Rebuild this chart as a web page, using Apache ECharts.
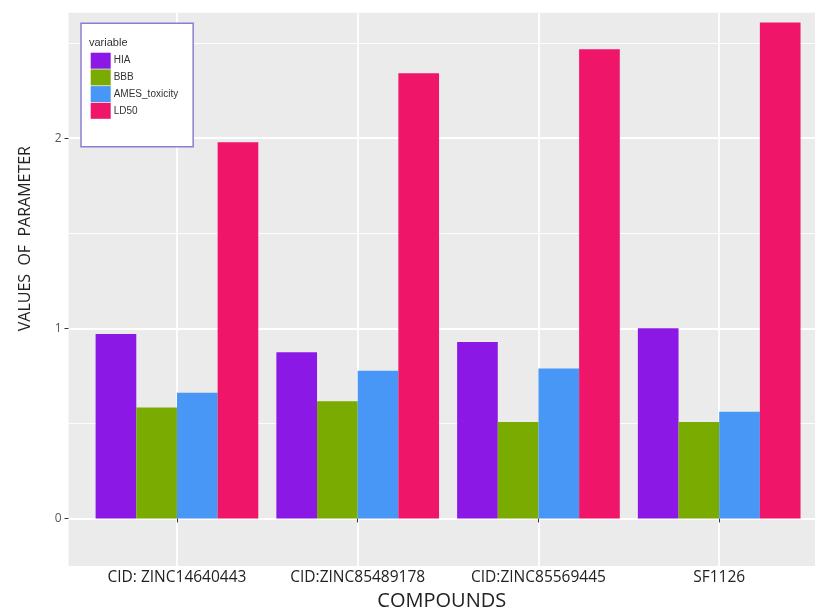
<!DOCTYPE html>
<html>
<head>
<meta charset="utf-8">
<script src="https://cdn.jsdelivr.net/npm/echarts@6/dist/echarts.min.js"></script>
<style>html,body{margin:0;padding:0;background:#fff;}#c{width:815px;height:610px;}</style>
</head>
<body>
<div id="c"></div>
<script>
const categories = ['CID: ZINC14640443', 'CID:ZINC85489178', 'CID:ZINC85569445', 'SF1126'];
const seriesNames = ['HIA', 'BBB', 'AMES_toxicity', 'LD50'];
const HIA = [0.970, 0.874, 0.928, 1.000];
const BBB = [0.584, 0.617, 0.507, 0.508];
const AMES_toxicity = [0.661, 0.777, 0.789, 0.561];
const LD50 = [1.979, 2.342, 2.468, 2.608];
const yTicks = [0, 1, 2];
const yMinorTicks = [0.5, 1.5, 2.5];
const colors = ['#8c18e6', '#7aab00', '#4896f5', '#ef1569'];

const xPositions = categories.map((c, i) => i + 1);
const values = [HIA, BBB, AMES_toxicity, LD50];
const font = '"Open Sans", "Liberation Sans", sans-serif';

const chart = echarts.init(document.getElementById('c'), null, {renderer: 'canvas'});
chart.setOption({
  animation: false,
  backgroundColor: '#ffffff',
  grid: {
    left: 68.5, right: 0, top: 12.7, bottom: 44,
    outerBoundsMode: 'none', containLabel: false,
    show: true, backgroundColor: '#EBEBEB', borderWidth: 0
  },
  title: {
    text: 'variable', left: 89, top: 37,
    textStyle: {fontFamily: 'Liberation Sans, Arial, sans-serif', fontSize: 11, fontWeight: 'normal', color: '#333'},
    padding: 0
  },
  legend: {
    orient: 'vertical', left: 81, top: 23.3,
    padding: [29.4, 15, 28, 9.7],
    backgroundColor: '#ffffff', borderColor: '#8a7fd0', borderWidth: 1.5,
    itemWidth: 20, itemHeight: 16, itemGap: 0.7,
    icon: 'rect',
    data: seriesNames,
    textStyle: {fontFamily: 'Liberation Sans, Arial, sans-serif', fontSize: 10, color: '#333', padding: [0, 0, 0, -2]}
  },
  graphic: [{
    type: 'text', left: 17, top: 146,
    rotation: Math.PI / 2,
    style: {text: 'VALUES  OF  PARAMETER', font: '16px ' + font, fill: '#222'}
  }],
  xAxis: {
    type: 'value', min: 0.4, max: 4.53,
    name: 'COMPOUNDS', nameLocation: 'middle', nameGap: 23,
    nameTextStyle: {fontFamily: font, fontSize: 20, color: '#222'},
    axisLine: {show: false},
    axisTick: {show: true, length: 4, lineStyle: {color: '#333'}, customValues: xPositions},
    axisLabel: {
      customValues: xPositions, margin: 4,
      fontFamily: font, fontSize: 15.5, color: '#222',
      formatter: v => categories[Math.round(v) - 1]
    },
    splitLine: {show: true, lineStyle: {color: '#ffffff', width: 1.8}}
  },
  yAxis: [{
    type: 'value', min: -0.25, max: 2.66,
    axisLine: {show: false},
    axisTick: {show: true, length: 4, lineStyle: {color: '#333'}, customValues: yTicks},
    axisLabel: {customValues: yTicks, margin: 7, fontFamily: font, fontSize: 12, color: '#555'},
    splitLine: {show: true, lineStyle: {color: '#ffffff', width: 1.8}}
  }, {
    type: 'value', min: -0.25, max: 2.66, position: 'left',
    axisLine: {show: false},
    axisTick: {show: false, customValues: yMinorTicks},
    axisLabel: {show: false, customValues: yMinorTicks},
    splitLine: {show: true, lineStyle: {color: '#ffffff', width: 0.9}}
  }],
  series: seriesNames.map((name, k) => ({
    name: name, type: 'bar',
    xAxisIndex: 0, yAxisIndex: 0,
    barGap: '0%', barCategoryGap: '10%',
    itemStyle: {color: colors[k]},
    data: values[k].map((v, i) => [xPositions[i], v])
  }))
});
</script>
</body>
</html>
